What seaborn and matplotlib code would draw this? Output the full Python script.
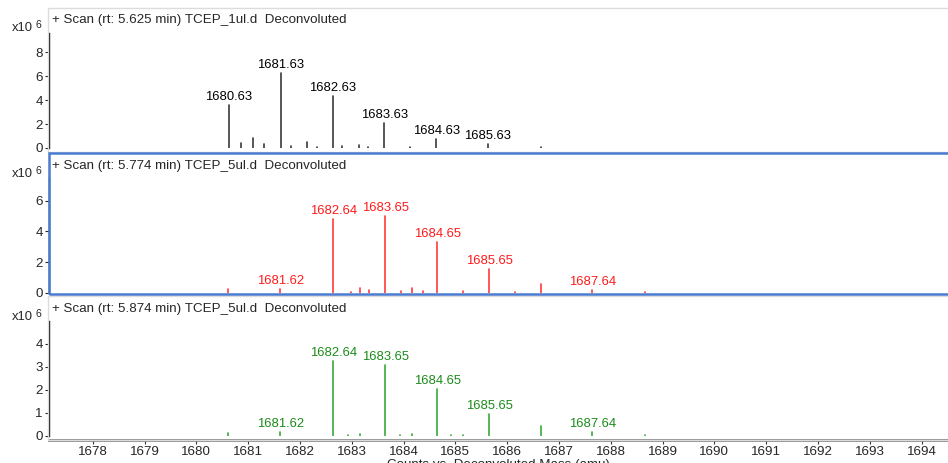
import numpy as np
import pandas as pd
import matplotlib
matplotlib.use("Agg")
import matplotlib.pyplot as plt
from matplotlib.patches import Rectangle
import seaborn as sns

# ---------------- data (intensities in counts x10^6) ----------------
headers = ["+ Scan (rt: 5.625 min) TCEP_1ul.d  Deconvoluted",
           "+ Scan (rt: 5.774 min) TCEP_5ul.d  Deconvoluted",
           "+ Scan (rt: 5.874 min) TCEP_5ul.d  Deconvoluted"]

mass_1 = [1680.63, 1680.86, 1681.09, 1681.30, 1681.63, 1681.83, 1682.14, 1682.33,
          1682.63, 1682.81, 1683.14, 1683.31, 1683.63, 1684.12, 1684.63, 1685.63, 1686.65]
int_1 = [3.6, 0.4, 0.85, 0.3, 6.25, 0.2, 0.5, 0.1,
         4.33, 0.15, 0.25, 0.1, 2.1, 0.1, 0.73, 0.31, 0.08]
labels_1 = ["1680.63", "1681.63", "1682.63", "1683.63", "1684.63", "1685.63"]

mass_2 = [1680.62, 1681.62, 1682.64, 1682.98, 1683.15, 1683.34, 1683.65, 1683.95,
          1684.16, 1684.37, 1684.65, 1685.15, 1685.65, 1686.16, 1686.65, 1687.64, 1688.66]
int_2 = [0.22, 0.25, 4.8, 0.05, 0.33, 0.18, 5.0, 0.12,
         0.33, 0.12, 3.3, 0.1, 1.52, 0.05, 0.57, 0.2, 0.05]
labels_2 = ["1681.62", "1682.64", "1683.65", "1684.65", "1685.65", "1687.64"]

mass_3 = [1680.62, 1681.62, 1682.64, 1682.93, 1683.15, 1683.65, 1683.93, 1684.16,
          1684.65, 1684.92, 1685.15, 1685.65, 1686.66, 1687.64, 1688.66]
int_3 = [0.12, 0.17, 3.27, 0.03, 0.09, 3.09, 0.03, 0.09,
         2.04, 0.03, 0.05, 0.96, 0.43, 0.16, 0.03]
labels_3 = ["1681.62", "1682.64", "1683.65", "1684.65", "1685.65", "1687.64"]

x_ticks = list(range(1678, 1695))
y_ticks = [[0, 2, 4, 6, 8], [0, 2, 4, 6], [0, 1, 2, 3, 4]]
x_label = "Counts vs. Deconvoluted Mass (amu)"

# ---------------- style ----------------
sns.set_style("white")
plt.rcParams['font.family'] = ['Liberation Sans', 'DejaVu Sans']

W, H = 948, 463
fig = plt.figure(figsize=(W / 100, H / 100), dpi=100)

def fx(px):
    return px / W

def fy(py):
    return 1 - py / H

# panel geometry in pixels: (top, baseline, ylim_top, spine_top)
panels = [(8, 148, 11.67, 9.6), (154, 292.7, 9.04, 7.55), (297, 436, 6.04, 5.0)]
stem_colors = ["#3a3a3a", "#ff3b3b", "#3aa83a"]
text_colors = ["#000000", "#ff1a1a", "#1a8c1a"]
series = [(mass_1, int_1, labels_1), (mass_2, int_2, labels_2), (mass_3, int_3, labels_3)]

left_px, right_px = 49, 948
xlim = (1677.155, 1694.51)

# panel frames
fig.patches.append(Rectangle((fx(48), fy(152)), fx(960 - 48), fy(8) - fy(152),
                             transform=fig.transFigure, fill=False,
                             edgecolor="#dcdcdc", lw=1.0, zorder=0))
fig.patches.append(Rectangle((fx(48.5), fy(294)), fx(960 - 48), fy(152.5) - fy(294),
                             transform=fig.transFigure, fill=False,
                             edgecolor="#4a7bd0", lw=1.8, zorder=5))
fig.patches.append(Rectangle((fx(48), fy(440)), fx(960 - 48), fy(296) - fy(440),
                             transform=fig.transFigure, fill=False,
                             edgecolor="#dcdcdc", lw=1.0, zorder=0))

axes = []
for i, ((top, base, ytop, stop), (ms, vals, labs)) in enumerate(zip(panels, series)):
    ax = fig.add_axes([fx(left_px), fy(base), fx(right_px - left_px), fy(top) - fy(base)])
    ax.patch.set_alpha(0)
    df = pd.DataFrame({
        "mass": np.repeat(ms, 2),
        "val": np.ravel([[0, v] for v in vals]),
        "pid": np.repeat(np.arange(len(ms)), 2),
    })
    sns.lineplot(data=df, x="mass", y="val", units="pid", estimator=None, sort=False,
                 color=stem_colors[i], lw=1.2, ax=ax, legend=False)
    for lab in labs:
        m = float(lab)
        j = int(np.argmin(np.abs(np.array(ms) - m)))
        ax.annotate(lab, (ms[j], vals[j]), xytext=(0, 1.5), textcoords="offset points",
                    ha="center", va="bottom", fontsize=9.4, color=text_colors[i])
    ax.set_xlim(*xlim)
    ax.set_ylim(0, ytop)
    ax.set_yticks(y_ticks[i])
    ax.set_yticklabels([str(t) for t in y_ticks[i]], fontsize=9.6)
    ax.tick_params(axis="y", direction="out", length=3, width=0.8, pad=1.5, left=True)
    for s in ["top", "right"]:
        ax.spines[s].set_visible(False)
    ax.spines["left"].set_bounds(0, stop)
    ax.spines["left"].set_color("#111111")
    ax.spines["left"].set_linewidth(1.0)
    ax.set_xlabel("")
    ax.set_ylabel("")
    if i < 2:
        ax.spines["bottom"].set_visible(False)
        ax.set_xticks([])
    else:
        ax.spines["bottom"].set_position(("outward", 3))
        ax.spines["bottom"].set_color("#808080")
        ax.spines["bottom"].set_linewidth(2.0)
        ax.set_xticks(x_ticks)
        ax.set_xticklabels([str(t) for t in x_ticks], fontsize=9.6)
        ax.tick_params(axis="x", direction="out", length=3, width=0.8, pad=1.5,
                       bottom=True, color="#333333")
        ax.set_xlabel(x_label, fontsize=9.6, labelpad=0.5)
    axes.append(ax)

    # header text and scale marker
    hdr_y = top + 12
    fig.text(fx(52), fy(hdr_y), headers[i], fontsize=9.6, va="center", ha="left")
    fig.text(fx(33), fy(top + 20), "x10", fontsize=9.4, va="center", ha="right")
    fig.text(fx(36), fy(top + 17), "6", fontsize=7.5, va="center", ha="left")

fig.savefig("out.png", dpi=100)
